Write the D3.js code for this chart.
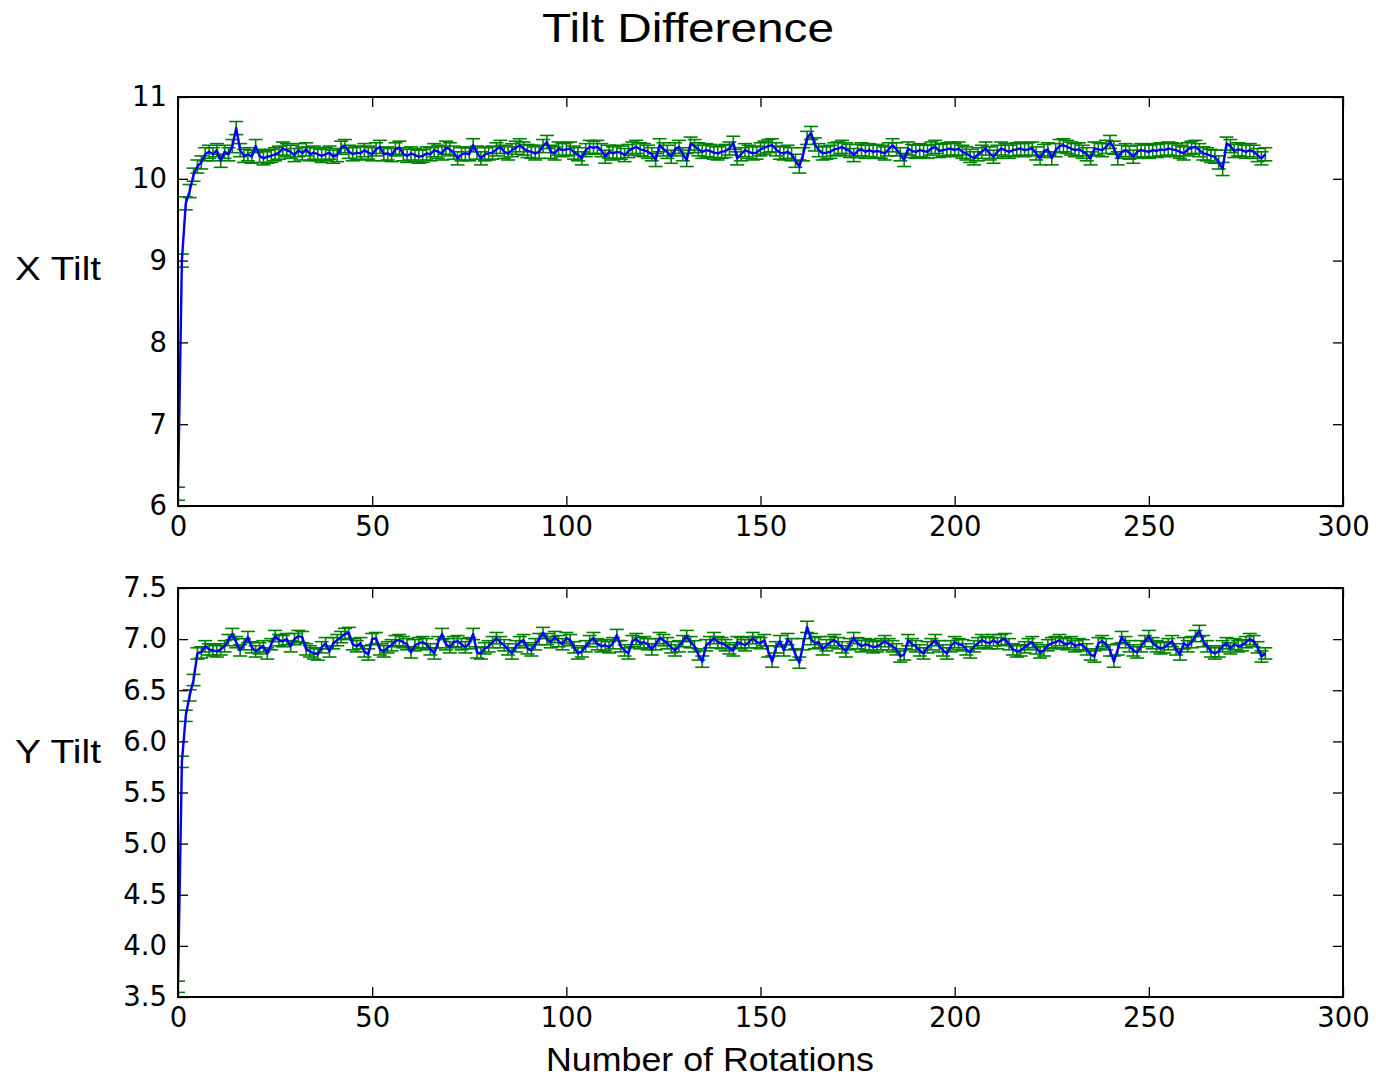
<!DOCTYPE html>
<html>
<head>
<meta charset="utf-8">
<script src="https://cdn.jsdelivr.net/npm/d3@7"></script>
<style>
body { margin: 0; background: #fff; }
svg { display: block; }
</style>
</head>
<body>
<svg id="chart" width="1376" height="1078"></svg>
<script>
// values, one per rotation (0..280)
const xTilt = [
  6.15, 9.0, 9.7, 9.85, 10.05, 10.15, 10.2, 10.3, 10.33, 10.3,
  10.35, 10.22, 10.33, 10.3, 10.4, 10.62, 10.35, 10.28, 10.3, 10.27,
  10.4, 10.28, 10.25, 10.27, 10.28, 10.3, 10.32, 10.37, 10.35, 10.33,
  10.29, 10.35, 10.31, 10.36, 10.3, 10.32, 10.3, 10.28, 10.3, 10.32,
  10.27, 10.29, 10.38, 10.4, 10.33, 10.3, 10.32, 10.31, 10.35, 10.32,
  10.3, 10.36, 10.39, 10.3, 10.31, 10.29, 10.36, 10.38, 10.3, 10.28,
  10.31, 10.29, 10.27, 10.28, 10.31, 10.3, 10.35, 10.33, 10.31, 10.38,
  10.36, 10.32, 10.25, 10.3, 10.31, 10.3, 10.41, 10.32, 10.25, 10.3,
  10.31, 10.32, 10.36, 10.39, 10.33, 10.31, 10.35, 10.38, 10.41, 10.37,
  10.34, 10.33, 10.31, 10.33, 10.4, 10.45, 10.33, 10.31, 10.37, 10.35,
  10.36, 10.37, 10.32, 10.3, 10.25, 10.35, 10.39, 10.38, 10.39, 10.35,
  10.27, 10.33, 10.31, 10.33, 10.32, 10.29, 10.34, 10.37, 10.39, 10.36,
  10.35, 10.33, 10.3, 10.23, 10.41, 10.36, 10.33, 10.27, 10.36, 10.39,
  10.3, 10.23, 10.43, 10.4, 10.36, 10.33, 10.35, 10.34, 10.32, 10.31,
  10.33, 10.34, 10.37, 10.44, 10.25, 10.3, 10.35, 10.33, 10.31, 10.32,
  10.36, 10.38, 10.4, 10.41, 10.36, 10.32, 10.31, 10.33, 10.3, 10.22,
  10.15, 10.3, 10.5, 10.56, 10.42, 10.35, 10.31, 10.32, 10.33, 10.36,
  10.37, 10.39, 10.36, 10.34, 10.29, 10.34, 10.36, 10.33, 10.35, 10.33,
  10.34, 10.33, 10.31, 10.36, 10.41, 10.36, 10.3, 10.23, 10.37, 10.34,
  10.33, 10.35, 10.34, 10.33, 10.37, 10.39, 10.34, 10.35, 10.36, 10.37,
  10.35, 10.37, 10.33, 10.31, 10.28, 10.25, 10.3, 10.33, 10.37, 10.31,
  10.27, 10.33, 10.37, 10.35, 10.33, 10.35, 10.36, 10.37, 10.35, 10.36,
  10.37, 10.31, 10.25, 10.34, 10.36, 10.25, 10.35, 10.4, 10.41, 10.39,
  10.37, 10.35, 10.36, 10.33, 10.3, 10.25, 10.37, 10.36, 10.35, 10.39,
  10.45, 10.38, 10.25, 10.33, 10.35, 10.32, 10.27, 10.33, 10.35, 10.34,
  10.33, 10.35, 10.34, 10.36, 10.35, 10.37, 10.36, 10.35, 10.33, 10.31,
  10.36, 10.38, 10.39, 10.35, 10.31, 10.3, 10.28, 10.27, 10.2, 10.12,
  10.43, 10.4, 10.34, 10.36, 10.35, 10.33, 10.35, 10.33, 10.29, 10.25, 10.3
];

const yTilt = [
  3.6, 5.8, 6.25, 6.45, 6.6, 6.86, 6.87, 6.93, 6.9, 6.89,
  6.88, 6.9, 6.93, 6.99, 7.05, 6.97, 6.89, 6.95, 7.02, 6.92,
  6.88, 6.91, 6.93, 6.86, 6.95, 7.03, 6.99, 6.98, 7.0, 6.93,
  7.0, 7.03, 7.02, 6.9, 6.88, 6.86, 6.85, 6.92, 6.96, 6.88,
  6.96, 6.99, 7.02, 7.05, 7.06, 6.95, 6.93, 6.96, 6.88, 6.85,
  7.0, 7.01, 6.9, 6.88, 6.92, 6.94, 6.98, 6.99, 6.97, 6.95,
  6.87, 6.94, 6.96, 6.97, 6.95, 6.9, 6.86, 6.97, 7.05, 6.95,
  6.92, 6.97, 6.98, 6.95, 6.92, 6.96, 7.05, 6.87, 6.86, 6.91,
  6.93, 6.97, 7.01, 6.97, 6.94, 6.9, 6.86, 6.93, 6.97, 6.99,
  6.91, 6.89, 6.95, 7.0, 7.06, 7.0, 6.97, 7.02, 6.98, 6.95,
  7.01, 6.99, 6.92, 6.86, 6.88, 6.93, 6.98, 7.01, 6.95, 6.93,
  6.94, 6.92, 6.96, 7.04, 6.93, 6.89, 6.86, 6.98, 7.0, 6.96,
  6.97, 6.95, 6.9, 6.95, 7.01, 6.99, 6.96, 6.92, 6.89, 6.93,
  6.98, 7.03, 6.97, 6.93, 6.85, 6.78, 6.94, 6.97, 7.01, 6.97,
  6.96, 6.94, 6.91, 6.89, 6.97, 6.96, 6.94, 6.97, 7.01, 6.97,
  6.96, 6.99, 6.88, 6.78, 6.92, 6.98, 6.89, 7.0, 6.95, 6.85,
  6.77, 6.95, 7.12, 7.0, 6.96, 6.97, 6.9, 6.94, 6.97, 6.99,
  6.96, 6.92, 6.88, 6.95, 7.01, 6.96, 6.93, 6.95, 6.94, 6.92,
  6.93, 6.95, 6.98, 6.95, 6.93, 6.9, 6.83, 6.85, 6.99, 6.95,
  6.93, 6.89, 6.86, 6.92, 6.95, 6.99, 6.93, 6.89, 6.86, 6.93,
  6.97, 6.95, 6.94, 6.9, 6.87, 6.93, 6.96, 6.99, 6.97, 6.96,
  6.99, 6.96, 6.99, 7.0, 6.95, 6.9, 6.88, 6.89, 6.92, 6.95,
  6.97, 6.91, 6.87, 6.89, 6.94, 6.96, 6.97, 6.99, 6.96, 6.95,
  6.97, 6.93, 6.95, 6.94, 6.9, 6.85, 6.83, 6.96, 6.98, 6.95,
  6.89, 6.78, 6.9, 7.02, 6.97, 6.93, 6.89, 6.87, 6.93, 6.98,
  7.03, 6.96, 6.93, 6.91, 6.92, 6.95, 6.98, 6.9, 6.85, 6.96,
  6.93, 6.97, 7.03, 7.08, 6.98, 6.93, 6.88, 6.86, 6.88, 6.93,
  6.96, 6.91, 6.95, 6.93, 6.94, 6.97, 7.0, 6.98, 6.92, 6.83, 6.86
];

const xErr = 0.08;
const yErr = 0.055;

const rotTicks = [0, 50, 100, 150, 200, 250, 300];
const xTiltTicks = [6, 7, 8, 9, 10, 11];
const yTiltTicks = [3.5, 4.0, 4.5, 5.0, 5.5, 6.0, 6.5, 7.0, 7.5];

const svg = d3.select("#chart");
const left = 178, right = 1343;
const tickFont = "DejaVu Sans";
const labelFont = "Liberation Sans, Arial, sans-serif";

svg.append("text")
    .attr("x", 542).attr("y", 42)
    .attr("font-family", labelFont)
    .attr("font-size", 41)
    .attr("textLength", 292)
    .attr("lengthAdjust", "spacingAndGlyphs")
    .text("Tilt Difference");

panel(xTilt, xErr, [6, 11], xTiltTicks, d3.format("d"), 97, 506, "X Tilt", 280, "clipx");
panel(yTilt, yErr, [3.5, 7.5], yTiltTicks, d3.format(".1f"), 588, 997, "Y Tilt", 763, "clipy");

svg.append("text")
    .attr("x", 546).attr("y", 1071)
    .attr("font-family", labelFont)
    .attr("font-size", 34)
    .attr("textLength", 328)
    .attr("lengthAdjust", "spacingAndGlyphs")
    .text("Number of Rotations");

function panel(vals, err, yDomain, yTicks, fmt, top, bottom, label, labelY, clipId) {
    const x = d3.scaleLinear([0, 300], [left, right]);
    const y = d3.scaleLinear(yDomain, [bottom, top]);
    const pts = vals.map((v, i) => ({i: i, v: v}));

    const g = svg.append("g");

    g.append("clipPath").attr("id", clipId)
      .append("rect")
        .attr("x", left).attr("y", top)
        .attr("width", right - left).attr("height", bottom - top);

    const plot = g.append("g").attr("clip-path", "url(#" + clipId + ")");

    // error bars
    plot.append("g").selectAll("line")
        .data(pts)
        .join("line")
        .attr("x1", d => x(d.i)).attr("x2", d => x(d.i))
        .attr("y1", d => y(d.v - err)).attr("y2", d => y(d.v + err))
        .attr("stroke", "#008000").attr("stroke-width", 1.6);

    const caps = pts.flatMap(d => [{i: d.i, v: d.v - err}, {i: d.i, v: d.v + err}]);
    plot.append("g").selectAll("line")
        .data(caps)
        .join("line")
        .attr("x1", d => x(d.i) - 7).attr("x2", d => x(d.i) + 7)
        .attr("y1", d => y(d.v)).attr("y2", d => y(d.v))
        .attr("stroke", "#008000").attr("stroke-width", 1.6);

    plot.append("path")
        .datum(pts)
        .attr("fill", "none")
        .attr("stroke", "#0000ff")
        .attr("stroke-width", 2.4)
        .attr("stroke-linejoin", "round")
        .attr("d", d3.line().x(d => x(d.i)).y(d => y(d.v)));

    // ticks, pointing inward on all four sides
    const axB = g.append("g").attr("transform", "translate(0," + bottom + ")")
        .call(d3.axisBottom(x).tickValues(rotTicks).tickSize(-10).tickPadding(10));
    const axT = g.append("g").attr("transform", "translate(0," + top + ")")
        .call(d3.axisTop(x).tickValues(rotTicks).tickSize(-10).tickFormat(""));
    const axL = g.append("g").attr("transform", "translate(" + left + ",0)")
        .call(d3.axisLeft(y).tickValues(yTicks).tickSize(-10).tickPadding(11).tickFormat(fmt));
    const axR = g.append("g").attr("transform", "translate(" + right + ",0)")
        .call(d3.axisRight(y).tickValues(yTicks).tickSize(-10).tickFormat(""));

    [axB, axT, axL, axR].forEach(a => {
        a.select(".domain").remove();
        a.selectAll(".tick line").attr("stroke", "#000").attr("stroke-width", 1.3);
        a.selectAll("text")
            .attr("font-family", tickFont)
            .attr("font-size", 27.5)
            .attr("fill", "#000");
    });

    g.append("rect")
        .attr("x", left).attr("y", top)
        .attr("width", right - left).attr("height", bottom - top)
        .attr("fill", "none").attr("stroke", "#000").attr("stroke-width", 2);

    svg.append("text")
        .attr("x", 15).attr("y", labelY)
        .attr("font-family", labelFont)
        .attr("font-size", 34)
        .attr("textLength", 86)
        .attr("lengthAdjust", "spacingAndGlyphs")
        .text(label);
}
</script>
</body>
</html>
